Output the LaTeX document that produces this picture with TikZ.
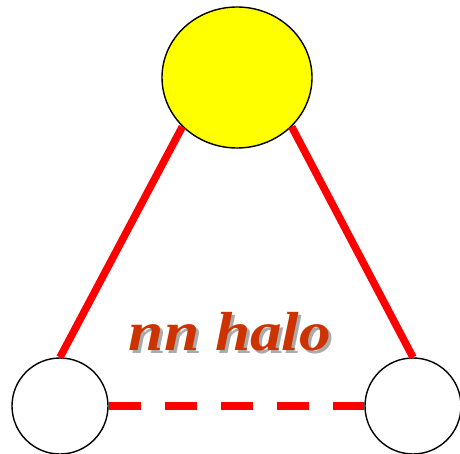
\documentclass[tikz,border=0pt]{standalone}
\usepackage{fontspec}
\setmainfont{Liberation Serif}
\usepackage{xcolor}
\usepackage{tikz}
\usetikzlibrary{shapes.geometric}

\definecolor{halored}{RGB}{204,51,0}
\definecolor{haloshadow}{RGB}{170,170,170}
\definecolor{coreyellow}{RGB}{255,255,0}
\definecolor{bondred}{RGB}{255,0,0}

\tikzset{
  bond/.style={bondred, line width=7.5pt},
  halobond/.style={bondred, line width=8pt, dash pattern=on 32pt off 24pt},
  neutron/.style={circle, draw=black, line width=1.4pt, fill=white, minimum size=96pt, inner sep=0pt},
  core/.style={ellipse, draw=black, line width=1.4pt, fill=coreyellow, minimum width=150pt, minimum height=141pt, inner sep=0pt},
  halotext/.style={font=\fontsize{55}{55}\selectfont\bfseries\itshape, xscale=1.15}
}

\begin{document}
\begin{tikzpicture}[x=1pt,y=-1pt]
        \useasboundingbox (0,0) rectangle (460,454);
        \node[core] (top) at (237,77.5) {};
        \node[neutron] (left) at (60,406) {};
        \node[neutron] (right) at (413,406) {};
        \draw[bond] (left.north) -- (top.222.5);
        \draw[bond] (top.-42.5) -- (right.north);
        \draw[halobond] (left.east) -- (right.west);
        \node[halotext, haloshadow] (labelshadow) at (233,335) {nn halo};
        \node[halotext, halored] (label) at (230,332) {nn halo};
    \end{tikzpicture}
\end{document}
